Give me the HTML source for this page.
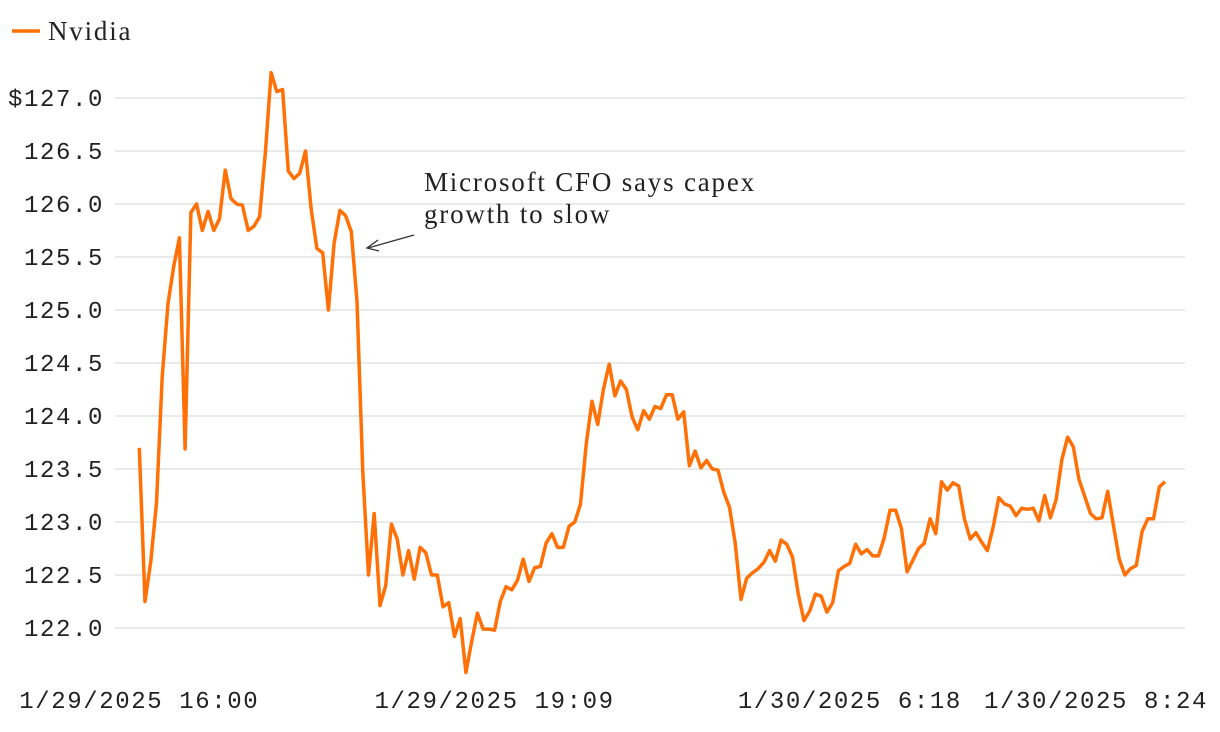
<!DOCTYPE html>
<html><head><meta charset="utf-8"><style>
html,body{margin:0;padding:0;background:#fff;}
svg{display:block;}
.tick{font-family:"Liberation Mono",monospace;font-size:24px;letter-spacing:1.6px;fill:#222;}
.serif{font-family:"Liberation Serif",serif;font-size:27px;letter-spacing:1.8px;fill:#222;}
</style></head><body>
<svg id="chart" width="1220" height="732" viewBox="0 0 1220 732">
<g id="grid"></g>
<g id="yaxis"></g>
<g id="xaxis"></g>
<g>
<line x1="12" y1="31" x2="40" y2="31" stroke="#ff7006" stroke-width="3.5"/>
<text x="48" y="40" class="serif">Nvidia</text>
</g>
<g>
<text x="424" y="191" class="serif">Microsoft CFO says capex</text>
<text x="424" y="223" class="serif">growth to slow</text>
<line x1="414" y1="235" x2="368" y2="248" stroke="#333" stroke-width="1.3"/>
<polyline points="378,240 367,248 379,251" fill="none" stroke="#333" stroke-width="1.3"/>
</g>
<path id="line" fill="none" stroke="#ff7006" stroke-width="3.5" stroke-linejoin="round"/>
</svg>
<script>
const prices = [123.70,122.25,122.63,123.18,124.37,125.06,125.41,125.68,123.69,125.92,126.00,125.75,125.93,125.75,125.86,126.32,126.05,126.00,125.99,125.75,125.79,125.88,126.49,127.24,127.06,127.08,126.31,126.24,126.29,126.50,125.95,125.58,125.54,125.00,125.63,125.94,125.89,125.74,125.08,123.47,122.50,123.08,
122.21,122.40,122.98,122.84,122.50,122.73,122.46,122.76,122.71,122.50,122.50,122.20,122.24,121.92,122.09,121.58,121.87,122.14,121.99,121.99,121.98,122.25,122.39,122.36,122.45,122.65,122.44,122.57,122.58,122.80,122.89,122.76,122.76,122.96,123.00,123.17,123.74,124.14,123.92,124.25,124.49,124.19,124.33,124.25,123.99,123.87,124.05,123.97,124.09,124.07,124.20,124.20,123.97,124.04,123.53,123.67,123.51,123.58,123.50,123.49,123.28,123.14,122.80,122.27,122.47,122.52,122.56,
122.62,122.73,122.63,122.83,122.79,122.67,122.32,122.07,122.16,122.32,122.30,122.15,122.24,122.54,122.58,122.61,122.79,122.70,122.74,122.68,122.68,122.85,123.11,123.11,122.94,122.53,122.64,122.75,122.80,123.03,122.89,123.38,123.30,123.37,123.34,123.03,122.84,122.90,122.81,122.73,122.95,123.23,123.17,123.15,123.06,123.13,123.12,123.13,123.01,123.25,123.04,123.21,123.59,123.80,123.71,123.40,123.24,123.08,123.03,123.04,123.29,122.97,122.65,122.50,122.56,122.59,122.91,123.03,123.03,123.33,123.38];
const yTicks = [122.0,122.5,123.0,123.5,124.0,124.5,125.0,125.5,126.0,126.5,127.0];
const yTickLabels = ["122.0","122.5","123.0","123.5","124.0","124.5","125.0","125.5","126.0","126.5","$127.0"];
const xTickIndex = [0,62,124,166];
const xTickLabels = ["1/29/2025 16:00","1/29/2025 19:09","1/30/2025 6:18","1/30/2025 8:24"];

const NS="http://www.w3.org/2000/svg";
const x0=139.3,x1=1165;
function xs(i){return x0+(x1-x0)*i/(prices.length-1);}
function ys(v){return 628-(v-122)*106;}
const grid=document.getElementById('grid'),ya=document.getElementById('yaxis'),xa=document.getElementById('xaxis');
yTicks.forEach((t,k)=>{
  const l=document.createElementNS(NS,'line');
  l.setAttribute('x1',115);l.setAttribute('x2',1185);l.setAttribute('y1',ys(t));l.setAttribute('y2',ys(t));
  l.setAttribute('stroke','#e3e3e3');l.setAttribute('stroke-width','1.5');
  
  
  grid.appendChild(l);
  const tx=document.createElementNS(NS,'text');
  tx.setAttribute('x',104);tx.setAttribute('y',ys(t)+8);tx.setAttribute('text-anchor','end');tx.setAttribute('class','tick');
  tx.textContent=yTickLabels[k];
  
  
  ya.appendChild(tx);
});
xTickIndex.forEach((idx,k)=>{
  const tx=document.createElementNS(NS,'text');
  let x=xs(idx),anchor='middle';
  if(k===xTickIndex.length-1){x=1208;anchor='end';}
  tx.setAttribute('x',x);tx.setAttribute('y',708);tx.setAttribute('text-anchor',anchor);tx.setAttribute('class','tick');
  tx.textContent=xTickLabels[k];
  
  
  xa.appendChild(tx);
});
document.getElementById('line').setAttribute('d',prices.map((v,i)=>(i?'L':'M')+xs(i).toFixed(1)+','+ys(v).toFixed(1)).join(''));
</script>
</body></html>
